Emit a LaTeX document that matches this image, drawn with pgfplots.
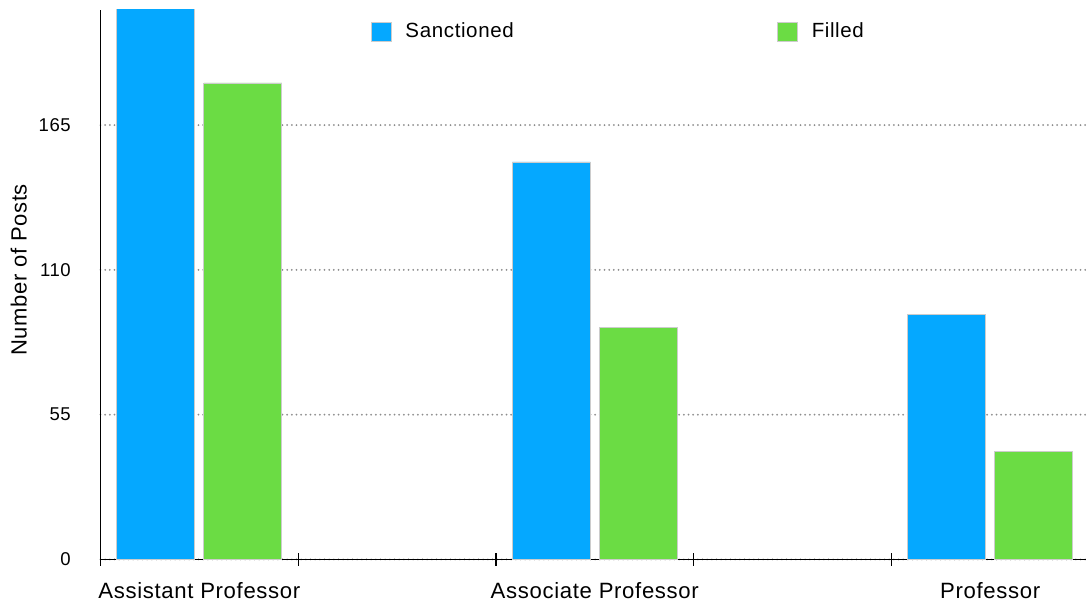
\documentclass[border=0pt]{standalone}
\usepackage{fontspec}
\setmainfont{Liberation Sans}[LetterSpace=3]
\usepackage{pgfplots}
\pgfplotsset{compat=1.18}
\definecolor{sblue}{RGB}{5,168,255}
\definecolor{sgreen}{RGB}{107,220,68}
\pgfplotsset{sq legend/.style={legend image code/.code={\draw[##1, draw=black!20, line width=0.6pt] (0pt,-7.7pt) rectangle (14.8pt,7.1pt);}}}
\begin{document}
\begin{tikzpicture}
\useasboundingbox (-75.375pt,-31.875pt) rectangle (739.125pt,419.625pt);
\begin{axis}[
  scale only axis, width=741.4pt, height=412.125pt,
  xmin=0, xmax=5, ymin=0, ymax=208.7,
  axis x line*=bottom, axis y line*=left,
  axis line style={-, black, line width=1.1pt},
  ybar=6.75pt, bar width=58.5pt,
  xtick={0,1,2,3,4,5}, xticklabels={},
  x tick style={black, line width=1pt},
  tick align=center, major tick length=9.5pt,
  extra x ticks={0.5,2.5,4.5},
  extra x tick labels={Assistant Professor, Associate Professor, Professor},
  extra x tick style={major tick length=0pt, x tick style={draw=none},
    xticklabel style={anchor=base, yshift=-28.9pt, inner sep=0pt, font=\fontsize{16.6}{19}\selectfont}},
  ytick={0,55,110,165},
  y tick style={draw=none},
  ymajorgrids,
  grid style={color=black!45, line width=1.5pt, dash pattern=on 0pt off 3.5pt, line cap=round},
  /pgf/number format/assume math mode=true,
  yticklabel style={anchor=east, inner sep=0pt, xshift=-17.4pt, font=\fontsize{13.9}{16}\selectfont},
  ylabel={Number of Posts},
  ylabel style={at={(axis description cs:-0.0747,0.527)}, anchor=base, inner sep=0pt, font=\fontsize{16.5}{19}\selectfont},
  legend style={draw=none, fill=none, inner sep=0pt, at={(axis cs:1.368,200.4)}, anchor=west,
    font=\fontsize{15.4}{18}\selectfont,
    /tikz/every odd column/.append style={column sep=10.3pt}},
  legend columns=2,
]
\addplot[fill=sblue, draw=black!20, line width=0.6pt, sq legend] coordinates {(0.5,212) (2.5,151) (4.5,93)};
\addlegendentry[text width=279pt, align=left, inner sep=0pt]{Sanctioned}
\addplot[fill=sgreen, draw=black!20, line width=0.6pt, sq legend] coordinates {(0.5,181) (2.5,88) (4.5,41)};
\addlegendentry[text width=279pt, align=left, inner sep=0pt]{Filled}
\end{axis}
\end{tikzpicture}
\end{document}
